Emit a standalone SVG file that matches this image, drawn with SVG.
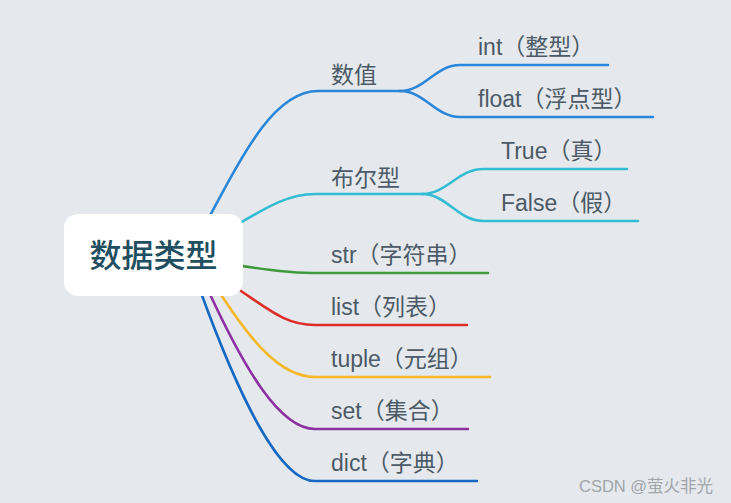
<svg xmlns="http://www.w3.org/2000/svg" width="731" height="503" viewBox="0 0 731 503">
<style>
.c{fill:none;stroke-width:2.6;stroke-linecap:round}
.t{font-family:"Liberation Sans","Noto Sans CJK SC",sans-serif;font-size:23px;fill:#4b5a66}
.r{font-family:"Noto Sans CJK SC","Liberation Sans",sans-serif;font-size:32px;fill:#1f4f61;font-weight:500}
</style>
<rect width="731" height="503" fill="#e5e9ed"/>
<g id="connectors">
<path class="c" stroke="#2a86d9" d="M205,225 C245,150 275,91 318,91 H400"/>
<path class="c" stroke="#2a86d9" d="M400,91 C425,91 435,65 460,65 H608"/>
<path class="c" stroke="#2a86d9" d="M400,91 C425,91 435,117 460,117 H653"/>
<path class="c" stroke="#33bcd3" d="M235,226 C270,205 290,194 315,194 H422"/>
<path class="c" stroke="#33bcd3" d="M422,194 C447,194 458,169 483,169 H627"/>
<path class="c" stroke="#33bcd3" d="M422,194 C447,194 458,221 483,221 H638"/>
<path class="c" stroke="#3f9a3d" d="M235,265 C270,270 290,273 312,273 H488"/>
<path class="c" stroke="#dd2e2b" d="M232,285 C270,310 285,325 315,325 H467"/>
<path class="c" stroke="#f6b72a" d="M218,290 C250,340 280,377 315,377 H490"/>
<path class="c" stroke="#8d30a2" d="M208,290 C245,370 280,429 315,429 H468"/>
<path class="c" stroke="#1669c2" d="M200,290 C240,400 280,481 315,481 H477"/>
</g>
<g id="root">
<rect x="64" y="214" width="179" height="82" rx="14" fill="#ffffff"/>
<text class="r" x="153.5" y="267" text-anchor="middle">数据类型</text>
</g>
<g id="n-shuzhi"><text class="t" x="331" y="83">数值</text></g>
<g id="n-int"><text class="t" x="478" y="55">int（整型）</text></g>
<g id="n-float"><text class="t" x="478" y="107">float（浮点型）</text></g>
<g id="n-bool"><text class="t" x="331" y="186">布尔型</text></g>
<g id="n-true"><text class="t" x="501" y="159">True（真）</text></g>
<g id="n-false"><text class="t" x="501" y="211">False（假）</text></g>
<g id="n-str"><text class="t" x="331" y="263">str（字符串）</text></g>
<g id="n-list"><text class="t" x="331" y="315">list（列表）</text></g>
<g id="n-tuple"><text class="t" x="331" y="367">tuple（元组）</text></g>
<g id="n-set"><text class="t" x="331" y="419">set（集合）</text></g>
<g id="n-dict"><text class="t" x="331" y="471">dict（字典）</text></g>
<text x="579" y="492" font-family="Liberation Sans,Noto Sans CJK SC,sans-serif" font-size="16.5" fill="#a0a5aa">CSDN @萤火非光</text>
</svg>
